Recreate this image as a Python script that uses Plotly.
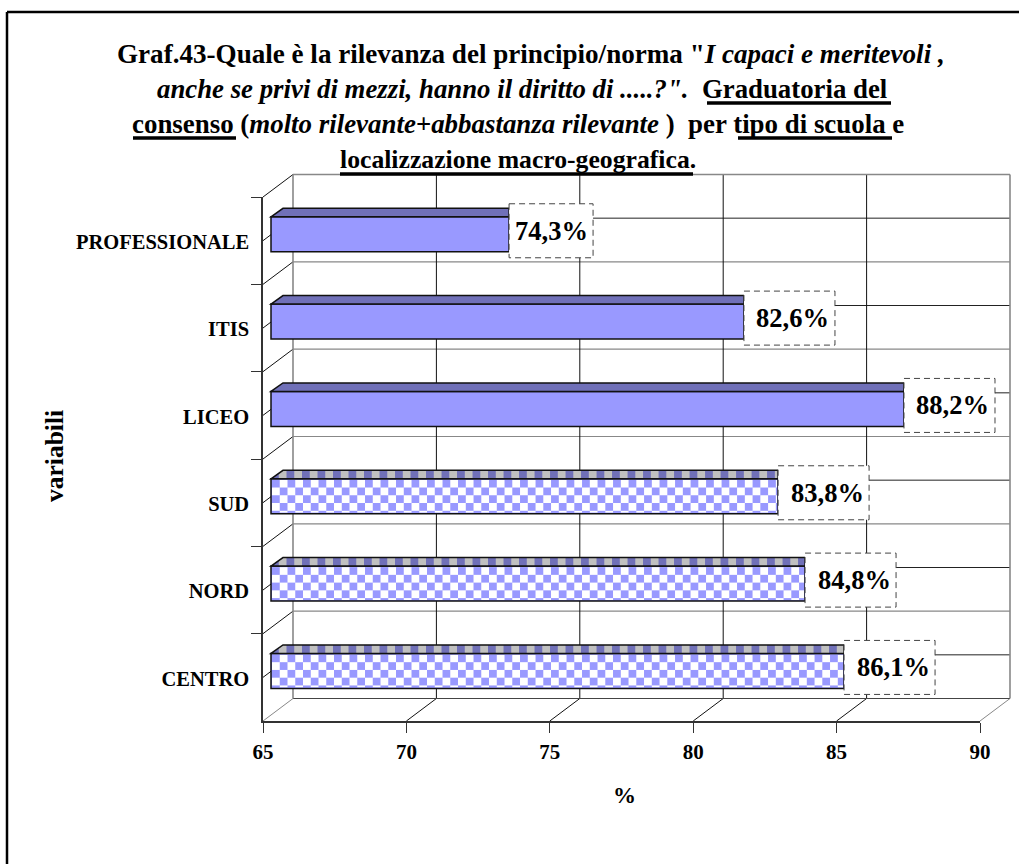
import base64
import plotly.graph_objects as go

W, H = 1019, 864

# ---- data -------------------------------------------------------------
categories = ["CENTRO", "NORD", "SUD", "LICEO", "ITIS", "PROFESSIONALE"]
bar_ends = [85.26, 83.9, 82.96, 87.35, 81.77, 73.58]
value_labels = ["86,1%", "84,8%", "83,8%", "88,2%", "82,6%", "74,3%"]
x_ticks = [65, 70, 75, 80, 85, 90]
checkered = [True, True, True, False, False, False]
title_lines = [
    'Graf.43-Quale è la rilevanza del principio/norma "<i>I capaci e meritevoli ,</i>',
    '<i>anche se privi di mezzi, hanno il diritto di .....?".</i>  Graduatoria del',
    'consenso (<i>molto rilevante+abbastanza rilevante </i>)  per tipo di scuola e',
    'localizzazione macro-geografica.',
]

# ---- geometry (page pixels) --------------------------------------------
X0, X1 = 263, 980          # front plane: 65 .. 90
Y0, Y1 = 197, 721          # front plane: top .. floor
DX, DY = 30, -22.5         # depth offset of the back wall
BAND = (Y1 - Y0) / len(categories)
BAR_H = 35
BAR_DX, BAR_DY = 12, -8.5  # depth of the top face
BAR_LEFT = 271
BOX_H = 54
FONT = "Liberation Serif"
BLUE, DARK, GREY = "#9999FF", "#7070B8", "#C0C0C0"
INK, WALL = "#111111", "#888888"


def fx(v):
    return X0 + (v - x_ticks[0]) * (X1 - X0) / (x_ticks[-1] - x_ticks[0])


def vx(px):
    return x_ticks[0] + (px - X0) * (x_ticks[-1] - x_ticks[0]) / (X1 - X0)


def px(x):
    return x / W


def py(y):
    return 1 - y / H


def band_centre(i):
    return Y1 - BAND * (i + 0.5)


def line(x0, y0, x1, y1, color=INK, width=1, layer="below", dash=None):
    return dict(type="line", xref="paper", yref="paper", x0=px(x0), y0=py(y0), x1=px(x1), y1=py(y1),
                layer=layer, line=dict(color=color, width=width, dash=dash))


def poly(points, fill, border=INK, width=1.5, layer="above"):
    d = "M" + " L".join(f"{px(a):.5f},{py(b):.5f}" for a, b in points) + " Z"
    return dict(type="path", xref="paper", yref="paper", path=d, fillcolor=fill, layer=layer,
                line=dict(color=border, width=width))


def svg_uri(svg):
    return "data:image/svg+xml;base64," + base64.b64encode(svg.encode()).decode()


def checker_front(w, h):
    return svg_uri(
        f'<svg xmlns="http://www.w3.org/2000/svg" width="{w}" height="{h}" viewBox="0 0 {w} {h}">'
        '<defs><pattern id="c" width="15.5" height="15.5" patternUnits="userSpaceOnUse">'
        f'<rect width="15.5" height="15.5" fill="white"/><rect width="7.75" height="7.75" fill="{BLUE}"/>'
        f'<rect x="7.75" y="7.75" width="7.75" height="7.75" fill="{BLUE}"/></pattern></defs>'
        f'<rect width="{w}" height="{h}" fill="url(#c)"/></svg>')


def checker_top(w, h, skew):
    return svg_uri(
        f'<svg xmlns="http://www.w3.org/2000/svg" width="{w}" height="{h}" viewBox="0 0 {w} {h}">'
        '<defs><pattern id="t" width="15.5" height="40" patternUnits="userSpaceOnUse">'
        f'<rect width="15.5" height="40" fill="{GREY}"/><rect width="7.75" height="40" fill="{DARK}"/></pattern></defs>'
        f'<polygon points="0,{h} {skew},0 {w},0 {w},{h}" fill="url(#t)"/></svg>')


shapes, images, annotations = [], [], []

# outer frame
shapes.append(line(7, 12, 1019, 12, color="#000000", width=2.5))
shapes.append(line(7, 12, 7, 864, color="#000000", width=2.5))

# back wall: horizontal lines at band edges and at band centres
for i in range(len(categories) + 1):
    y = Y1 - BAND * i
    shapes.append(line(X0, y, X0 + DX, y + DY, color=WALL if i == 0 else INK))
    if 0 < i < len(categories):
        shapes.append(line(X0 + DX, y + DY, X1 + DX, y + DY, color=WALL, width=1.2))
for i in range(len(categories)):
    y = band_centre(i)
    shapes.append(line(X0, y, X0 + DX, y + DY))
    shapes.append(line(X0 + DX, y + DY, X1 + DX, y + DY, color="#222222"))

# back wall: vertical lines + floor diagonals
for t in x_ticks:
    x = fx(t)
    if t != x_ticks[0] and t != x_ticks[-1]:
        shapes.append(line(x + DX, Y0 + DY, x + DX, Y1 + DY))
    if t != x_ticks[0]:
        shapes.append(line(x, Y1, x + DX, Y1 + DY, color=WALL if t == x_ticks[-1] else INK))

# wall outline
shapes.append(line(X0 + DX, Y0 + DY, X1 + DX, Y0 + DY, color=WALL, width=1.6))
shapes.append(line(X0 + DX, Y1 + DY, X1 + DX, Y1 + DY, color="#444444", width=1.2))
shapes.append(line(X0 + DX, Y0 + DY, X0 + DX, Y1 + DY, color=WALL, width=1.6))
shapes.append(line(X1 + DX, Y0 + DY, X1 + DX, Y1 + DY, color=WALL, width=1.6))

# bars' extra faces, patterns and value boxes
for i, (end, lab, chk) in enumerate(zip(bar_ends, value_labels, checkered)):
    xe = fx(end)
    yc = band_centre(i) - 6.4
    top, bottom = yc - BAR_H / 2, yc + BAR_H / 2
    w = xe - BAR_LEFT
    if chk:
        images.append(dict(source=checker_front(round(w - 2), BAR_H - 2), xref="paper", yref="paper",
                           x=px(BAR_LEFT + 1), y=py(top + 1), sizex=(w - 2) / W, sizey=(BAR_H - 2) / H,
                           sizing="stretch", xanchor="left", yanchor="top", layer="above"))
        images.append(dict(source=checker_top(round(w), round(-BAR_DY), BAR_DX), xref="paper", yref="paper",
                           x=px(BAR_LEFT), y=py(top + BAR_DY), sizex=w / W, sizey=-BAR_DY / H,
                           sizing="stretch", xanchor="left", yanchor="top", layer="above"))
        fill = "rgba(0,0,0,0)"
    else:
        fill = DARK
    shapes.append(poly([(BAR_LEFT, top), (BAR_LEFT + BAR_DX, top + BAR_DY), (xe, top + BAR_DY), (xe, top)], fill))

    box_w = 84 if lab == "74,3%" else 91
    by0 = yc - 3.5 - BOX_H / 2
    shapes.append(dict(type="rect", xref="paper", yref="paper", x0=px(xe), x1=px(xe + box_w),
                       y0=py(by0), y1=py(by0 + BOX_H), fillcolor="white", layer="above",
                       line=dict(color="#444444", width=1, dash="6px,4px")))
    annotations.append(dict(text=f"<b>{lab}</b>", xref="paper", yref="paper", x=px(xe + box_w - 3.5), y=py(by0 + BOX_H / 2),
                            xanchor="right", yanchor="middle", showarrow=False,
                            font=dict(family=FONT, size=26.5, color="black")))

# title + underlines
title_y = [54, 89, 124, 159]
title_x = [531, 522, 518, 518]
title_size = [27.1, 26.8, 26.9, 25.7]
for s, xc, yc, fs in zip(title_lines, title_x, title_y, title_size):
    annotations.append(dict(text=f"<b>{s}</b>", xref="paper", yref="paper", x=px(xc), y=py(yc),
                            xanchor="center", yanchor="middle", showarrow=False,
                            font=dict(family=FONT, size=fs, color="black")))
for x0, x1, y in [(707, 891, 103), (133, 236, 138), (738, 892, 138), (340, 693, 174)]:
    shapes.append(line(x0, y, x1, y, color="#000000", width=3.5, layer="above"))

# axis titles
annotations.append(dict(text="<b>variabili</b>", xref="paper", yref="paper", x=px(54), y=py(456), textangle=-90,
                        xanchor="center", yanchor="middle", showarrow=False,
                        font=dict(family=FONT, size=25.5, color="black")))
annotations.append(dict(text="<b>%</b>", xref="paper", yref="paper", x=px(624), y=py(795),
                        xanchor="center", yanchor="middle", showarrow=False,
                        font=dict(family=FONT, size=23, color="black")))

fig = go.Figure(go.Bar(
    y=categories, x=[e - vx(BAR_LEFT) for e in bar_ends], base=vx(BAR_LEFT), orientation="h",
    width=BAR_H / BAND, offset=-BAR_H / BAND / 2 + 6.4 / BAND,
    marker=dict(color=BLUE, line=dict(color=INK, width=1.5)), hoverinfo="skip",
))
tick_font = dict(family=FONT, size=21, color="black", weight="bold")
fig.update_layout(
    width=W, height=H, margin=dict(l=0, r=0, t=0, b=0, autoexpand=False), showlegend=False,
    paper_bgcolor="white", plot_bgcolor="rgba(0,0,0,0)",
    shapes=shapes, images=images, annotations=annotations,
    xaxis=dict(domain=[X0 / W, X1 / W], range=[x_ticks[0], x_ticks[-1]], tickvals=x_ticks, showgrid=False,
               zeroline=False, showline=True, linecolor="#333333", linewidth=1.5, ticks="outside", ticklen=10,
               tickcolor="#333333", tickfont=tick_font, ticklabelstandoff=1),
    yaxis=dict(domain=[1 - Y1 / H, 1 - Y0 / H], type="category", categoryorder="array", categoryarray=categories,
               range=[-0.5, len(categories) - 0.5], tickson="boundaries", showgrid=False, zeroline=False,
               showline=True, linecolor="#333333", linewidth=1.5, ticks="outside", ticklen=10, tickcolor="#333333",
               tickfont=dict(family=FONT, size=20.5, color="black", weight="bold"), ticklabelshift=1, ticklabelstandoff=8),
)
fig.write_html("out.html", config={"displayModeBar": False},
               post_script="document.body.style.margin='0';document.body.style.overflow='hidden';")
